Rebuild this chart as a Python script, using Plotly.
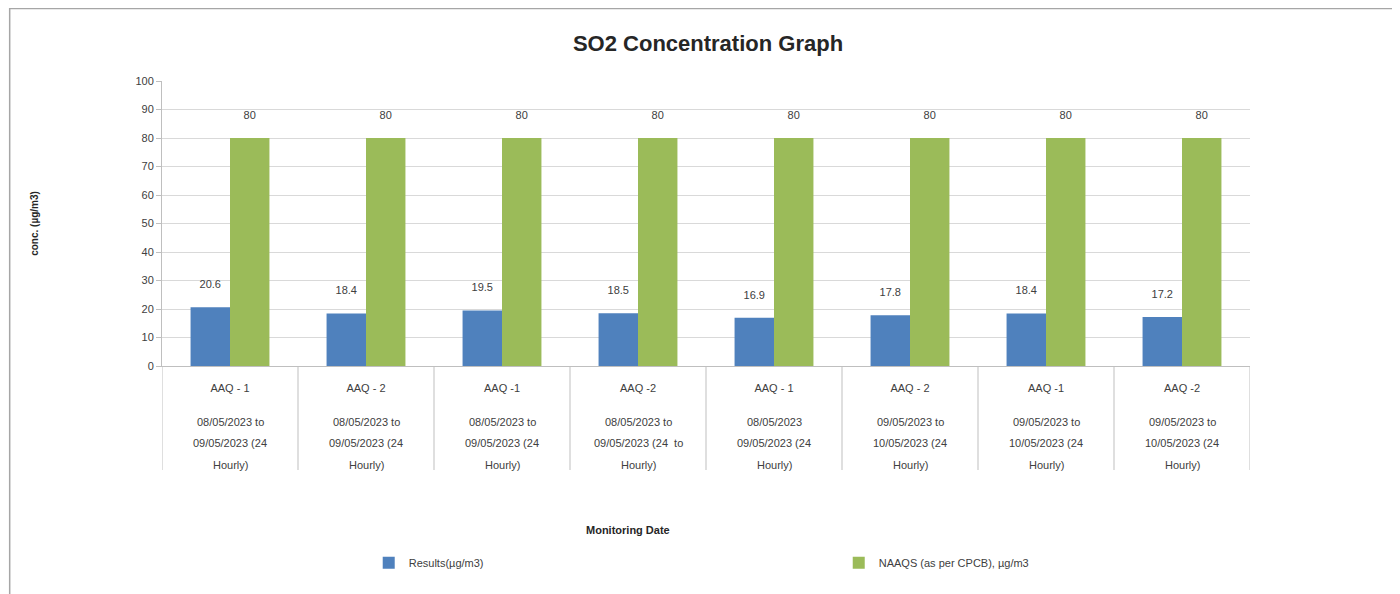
import plotly.graph_objects as go

# data
sites = ["AAQ - 1", "AAQ - 2", "AAQ -1", "AAQ -2",
         "AAQ - 1", "AAQ - 2", "AAQ -1", "AAQ -2"]
periods = [
    ["08/05/2023 to", "09/05/2023 (24", "Hourly)"],
    ["08/05/2023 to", "09/05/2023 (24", "Hourly)"],
    ["08/05/2023 to", "09/05/2023 (24", "Hourly)"],
    ["08/05/2023 to", "09/05/2023 (24  to", "Hourly)"],
    ["08/05/2023", "09/05/2023 (24", "Hourly)"],
    ["09/05/2023 to", "10/05/2023 (24", "Hourly)"],
    ["09/05/2023 to", "10/05/2023 (24", "Hourly)"],
    ["09/05/2023 to", "10/05/2023 (24", "Hourly)"],
]
results = [20.6, 18.4, 19.5, 18.5, 16.9, 17.8, 18.4, 17.2]
naaqs = [80, 80, 80, 80, 80, 80, 80, 80]
y_ticks = list(range(0, 101, 10))

FONT = "Liberation Sans, Arial, sans-serif"
BLUE = "#4F81BD"
GREEN = "#9BBB59"
TXT = "#404040"

idx = list(range(len(sites)))

fig = go.Figure()
fig.add_trace(go.Bar(
    x=idx, y=results, name="Results(µg/m3)", legend="legend",
    marker=dict(color=BLUE, line=dict(width=0)),
    text=results, texttemplate="%{y}<br> ", textposition="outside",
    textfont=dict(size=11, color=TXT, family=FONT), cliponaxis=False,
))
fig.add_trace(go.Bar(
    x=idx, y=naaqs, name="NAAQS (as per CPCB), µg/m3", legend="legend2",
    marker=dict(color=GREEN, line=dict(width=0)),
    text=naaqs, texttemplate="%{y}<br> ", textposition="outside",
    textfont=dict(size=11, color=TXT, family=FONT), cliponaxis=False,
))

# separators between category labels below the axis
shapes = []
for k in range(len(sites) + 1):
    shapes.append(dict(type="line", xref="x", yref="paper",
                       x0=k - 0.5, x1=k - 0.5, y0=-0.365, y1=0,
                       line=dict(color="#BFBFBF", width=1)))
# outer chart border
shapes.append(dict(type="rect", xref="paper", yref="paper",
                   x0=-0.14, x1=1.135, y0=-0.9, y1=1.254,
                   line=dict(color="#A6A6A6", width=1.5)))

# period text under each site name, one line at a time (wide line spacing)
annotations = [dict(text="<b>Monitoring Date</b>", xref="paper", yref="paper",
                    x=0.428, y=-0.575, showarrow=False, yanchor="middle",
                    font=dict(size=11, color="#262626"))]
line_y = [-0.196, -0.27, -0.346]
for i, lines in enumerate(periods):
    for ln, yy in zip(lines, line_y):
        annotations.append(dict(text=ln, xref="x", yref="paper", x=i, y=yy,
                                showarrow=False, yanchor="middle",
                                font=dict(size=11, color=TXT)))

leg_style = dict(orientation="h", yanchor="middle", xanchor="left",
                 font=dict(size=11, color=TXT), bgcolor="rgba(0,0,0,0)")

fig.update_layout(
    width=1400, height=594,
    margin=dict(l=154, r=158, t=73, b=236, autoexpand=False),
    paper_bgcolor="white", plot_bgcolor="white",
    font=dict(family=FONT, color=TXT, size=11),
    barmode="group", bargap=0.42, bargroupgap=0,
    title=dict(text="<b>SO2 Concentration Graph</b>", x=0.5, xref="container",
               y=1 - 35 / 594, yanchor="middle",
               font=dict(size=22, color="#262626", family=FONT)),
    showlegend=True,
    legend=dict(x=0.19, y=-0.69, **leg_style),
    legend2=dict(x=0.622, y=-0.69, **leg_style),
    shapes=shapes,
    annotations=annotations,
)
fig.update_xaxes(
    tickvals=idx, ticktext=sites, range=[-0.5, len(sites) - 0.5],
    showline=True, linecolor="#BFBFBF", ticks="", showgrid=False,
    tickfont=dict(size=11, color=TXT), ticklabelstandoff=12,
)
fig.update_yaxes(
    range=[0, 100], tickvals=y_ticks, showgrid=True, gridcolor="#D9D9D9",
    showline=True, linecolor="#BFBFBF", ticks="outside", ticklen=5,
    tickcolor="#BFBFBF", tickfont=dict(size=11, color=TXT), zeroline=False,
    title=dict(text="<b>conc. (µg/m3)</b>", standoff=94,
               font=dict(size=10, color="#262626")),
)

fig.write_html("out.html")
